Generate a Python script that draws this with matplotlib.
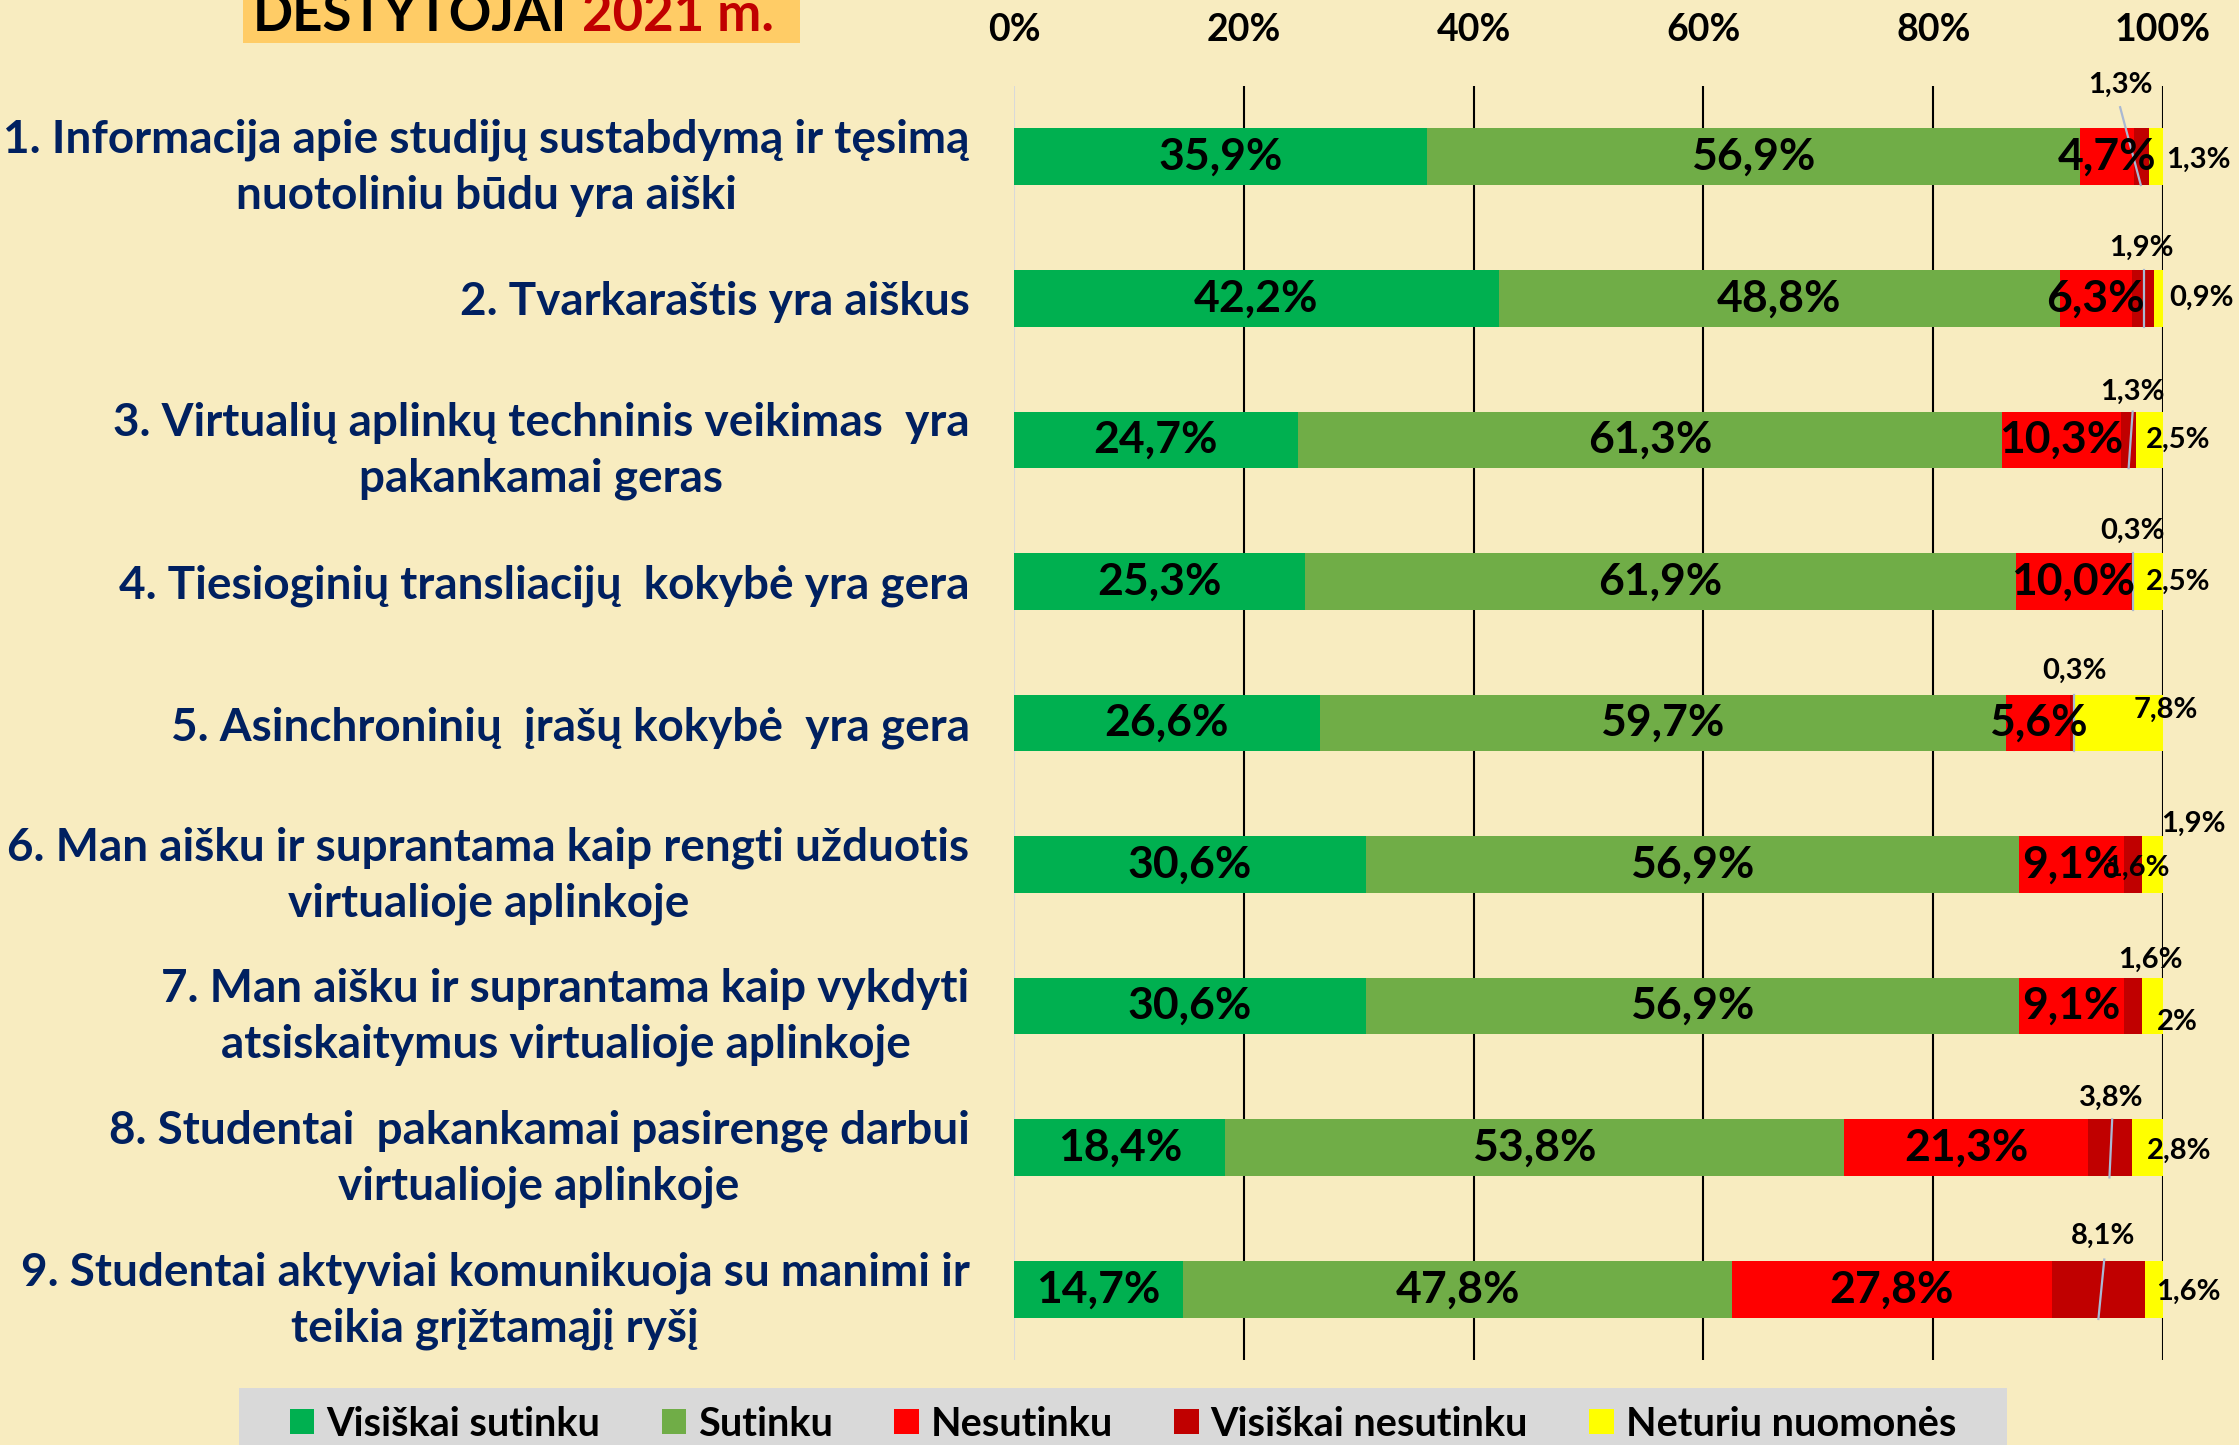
import matplotlib.pyplot as plt
import numpy as np
from matplotlib.patches import Rectangle, Patch

plt.rcParams['font.family'] = ['Lato', 'DejaVu Sans']
plt.rcParams['font.weight'] = 'bold'

questions = [
    "1. Informacija apie studijų sustabdymą ir tęsimą\nnuotoliniu būdu yra aiški",
    "2. Tvarkaraštis yra aiškus",
    "3. Virtualių aplinkų techninis veikimas  yra\npakankamai geras",
    "4. Tiesioginių transliacijų  kokybė yra gera",
    "5. Asinchroninių  įrašų kokybė  yra gera",
    "6. Man aišku ir suprantama kaip rengti užduotis\nvirtualioje aplinkoje",
    "7. Man aišku ir suprantama kaip vykdyti\natsiskaitymus virtualioje aplinkoje",
    "8. Studentai  pakankamai pasirengę darbui\nvirtualioje aplinkoje",
    "9. Studentai aktyviai komunikuoja su manimi ir\nteikia grįžtamąjį ryšį",
]
series_names = ["Visiškai sutinku", "Sutinku", "Nesutinku", "Visiškai nesutinku", "Neturiu nuomonės"]
very_agree = [35.9, 42.2, 24.7, 25.3, 26.6, 30.6, 30.6, 18.4, 14.7]
agree = [56.9, 48.8, 61.3, 61.9, 59.7, 56.9, 56.9, 53.8, 47.8]
disagree = [4.7, 6.3, 10.3, 10.0, 5.6, 9.1, 9.1, 21.3, 27.8]
very_disagree = [1.3, 1.9, 1.3, 0.3, 0.3, 1.6, 1.6, 3.8, 8.1]
no_opinion = [1.3, 0.9, 2.5, 2.5, 7.8, 1.9, 2, 2.8, 1.6]
tick_values = [0, 0.2, 0.4, 0.6, 0.8, 1.0]
tick_labels = ["0%", "20%", "40%", "60%", "80%", "100%"]

colors = ["#00B050", "#70AD47", "#FF0000", "#C00000", "#FFFF00"]
bg = "#F8ECC0"
text_blue = "#002060"

# placement of the small labels: (x, dy from row centre, ha)
dark_pos = [(0.963, -0.51), (0.981, -0.355), (0.973, -0.34), (0.973, -0.354), (0.923, -0.365),
            (0.978, 0.02), (0.9887, -0.33), (0.955, -0.35), (0.948, -0.375)]
dark_lines = [((0.9626, -0.35), (0.9806, 0.20)), ((0.983, -0.20), (0.983, 0.20)),
              ((0.9735, -0.2), (0.970, 0.2)), ((0.9736, -0.2), (0.9736, 0.2)),
              ((0.9226, -0.2), (0.9226, 0.2)), None, None,
              ((0.9557, -0.2), (0.9533, 0.21)), ((0.9488, -0.21), (0.9437, 0.21))]
yellow_pos = [(1.003, 0.02, 'left'), (1.005, 0, 'left'), (0.985, 0, 'left'), (0.985, 0, 'left'),
              (1.0026, -0.095, 'center'), (1.026, -0.29, 'center'), (1.012, 0.11, 'center'),
              (0.986, 0.02, 'left'), (0.9937, 0.02, 'left')]


def fmt(v):
    if isinstance(v, int):
        return f"{v}%"
    return f"{v:.1f}".replace('.', ',') + "%"


fig = plt.figure(figsize=(22.39, 14.45), dpi=100, facecolor=bg)
ax = fig.add_axes([0.4529, 0.0588, 0.5132, 0.8817])
ax.set_facecolor(bg)

y = np.arange(len(questions))
series = [very_agree, agree, disagree, very_disagree, no_opinion]
left = np.zeros(len(questions))
for vals, col, name in zip(series, colors, series_names):
    v = np.array(vals, dtype=float) / 100
    ax.barh(y, v, left=left, height=0.4, color=col, label=name, zorder=2)
    if col in colors[:3]:
        for i in range(len(y)):
            ax.text(left[i] + v[i] / 2, y[i], fmt(vals[i]), ha='center', va='center',
                    fontsize=32, fontweight='bold', color='black', zorder=4)
    left += v

for i in range(len(y)):
    x, dy = dark_pos[i]
    ax.text(x, y[i] + dy, fmt(very_disagree[i]), ha='center', va='center', fontsize=21,
            fontweight='bold', zorder=5, clip_on=False)
    if dark_lines[i] is not None:
        (x0, d0), (x1, d1) = dark_lines[i]
        ax.plot([x0, x1], [y[i] + d0, y[i] + d1], color='#A9B8D3', lw=1.6, zorder=3)
    x, dy, ha = yellow_pos[i]
    ax.text(x, y[i] + dy, fmt(no_opinion[i]), ha=ha, va='center', fontsize=21,
            fontweight='bold', zorder=5, clip_on=False)

ax.set_xlim(0, 1)
ax.set_ylim(len(questions) - 0.5, -0.5)
ax.xaxis.tick_top()
ax.set_xticks(tick_values, tick_labels, fontsize=27, fontweight='bold')
ax.tick_params(axis='x', length=0, pad=28)
ax.set_yticks(y, questions, fontsize=33, fontweight='bold', color=text_blue)
for t in ax.get_yticklabels():
    t.set_multialignment('center')
    t.set_linespacing(1.4)
ax.tick_params(axis='y', length=0, pad=32)
ax.grid(axis='x', color='black', lw=1.5, zorder=1)
ax.xaxis.get_gridlines()[0].set_color('#D9D9D9')
for s in ax.spines.values():
    s.set_visible(False)

# title box (cut by the top edge)
fig.patches.append(Rectangle((243 / 2239, 1 - 43 / 1445), (800 - 243) / 2239, 43 / 1445,
                             transform=fig.transFigure, facecolor='#FFCC66', edgecolor='none', zorder=0))
fig.text(253 / 2239, 1 - 31 / 1445, "DĖSTYTOJAI", fontsize=38, fontweight='bold', color='black',
         ha='left', va='baseline')
fig.text(582 / 2239, 1 - 31 / 1445, "2021 m.", fontsize=38, fontweight='bold', color='#C00000',
         ha='left', va='baseline')

# legend box
fig.patches.append(Rectangle((239 / 2239, 0), (2007 - 239) / 2239, 57 / 1445,
                             transform=fig.transFigure, facecolor='#D9D9D9', edgecolor='none', zorder=0))
handles = [Patch(facecolor=c, edgecolor='none') for c in colors]
fig.legend(handles, series_names, loc='center', bbox_to_anchor=(1123 / 2239, 21 / 1445), ncol=5,
           frameon=False, prop={'weight': 'bold', 'size': 28.5}, handlelength=0.62,
           handleheight=0.62, handletextpad=0.3, columnspacing=1.55)

fig.savefig("out.png", dpi=100, facecolor=bg)
